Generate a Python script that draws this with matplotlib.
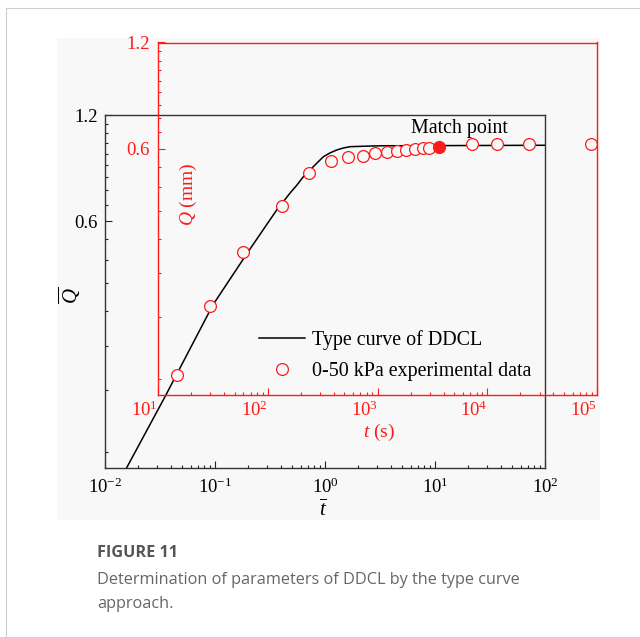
import numpy as np
import matplotlib
matplotlib.use("Agg")
import matplotlib.pyplot as plt
import matplotlib.ticker as ticker
from matplotlib.lines import Line2D
from matplotlib.patches import Rectangle

plt.rcParams['font.family'] = 'Liberation Serif'
plt.rcParams['mathtext.fontset'] = 'custom'
plt.rcParams['mathtext.rm'] = 'Liberation Serif'
plt.rcParams['mathtext.it'] = 'Liberation Serif:italic'

# type curve (dimensionless)
tbar = [0.0148, 0.0351, 0.0959, 0.1995, 0.364, 0.481, 0.556, 0.635, 0.700, 0.784, 0.863,
        0.966, 1.110, 1.277, 1.457, 1.687, 2.08, 2.56, 3.51, 5.15, 100]
qbar = [0.116, 0.191, 0.348, 0.491, 0.646, 0.721, 0.760, 0.802, 0.827, 0.857, 0.883,
        0.914, 0.937, 0.955, 0.967, 0.976, 0.978, 0.980, 0.982, 0.982, 0.985]

# 0-50 kPa experimental data
t_s = [15, 30, 60, 135, 240, 375, 540, 745, 955, 1210, 1500, 1820, 2200, 2580, 2970,
       7300, 12200, 24200, 87700]
q_mm = [0.137, 0.215, 0.306, 0.412, 0.513, 0.553, 0.567, 0.573, 0.582, 0.587, 0.592,
        0.595, 0.599, 0.601, 0.604, 0.617, 0.617, 0.617, 0.617]
match_t = [3660]
match_q = [0.607]

yticks = [0.6, 1.2]
yminor = [k / 15 for k in range(2, 18)]

red = '#ff1a1a'
panel = '#f8f8f8'

fig = plt.figure(figsize=(6.4, 6.37), dpi=100)
fig.patch.set_facecolor('white')
fig.patches.append(Rectangle((57/640, 1-520/637), 543/640, 482/637, transform=fig.transFigure,
                             facecolor=panel, edgecolor='none', zorder=-10))
fig.lines.append(Line2D([6/640, 6/640], [0, 1-8/637], transform=fig.transFigure, color='#cccccc', lw=0.8))
fig.lines.append(Line2D([6/640, 1], [1-8/637, 1-8/637], transform=fig.transFigure, color='#cccccc', lw=0.8))

ax = fig.add_axes([105/640, 1-468/637, 440/640, 353/637])
ax.set_facecolor('none')
ax.plot(tbar, qbar, color='black', lw=1.1)
ax.set_xscale('log')
ax.set_yscale('log')
ax.set_xlim(1e-2, 1e2)
ax.set_ylim(0.12, 1.2)
ax.yaxis.set_major_locator(ticker.FixedLocator(yticks))
ax.yaxis.set_major_formatter(ticker.FixedFormatter(['0.6', '1.2']))
ax.yaxis.set_minor_locator(ticker.FixedLocator(yminor))
ax.yaxis.set_minor_formatter(ticker.NullFormatter())
ax.tick_params(which='both', direction='in', top=False, right=False, labelsize=13.5, color='#222')
ax.tick_params(which='major', length=5, width=0.8)
ax.tick_params(which='minor', length=2.5, width=0.8)
ax.tick_params(axis='x', pad=7)
ax.tick_params(axis='y', pad=5)
for s in ax.spines.values():
    s.set_color('#333')
    s.set_linewidth(1.0)
ax.text(0.495, -0.09, r'$\overline{t}$', transform=ax.transAxes, fontsize=15, ha='center', va='top')
ax.text(-0.08, 0.49, r'$\overline{Q}$', transform=ax.transAxes, fontsize=15, ha='center',
        va='center', rotation=90)

ax2 = fig.add_axes([158/640, 1-395/637, 439/640, 352.5/637])
ax2.set_facecolor('none')
ax2.plot(t_s, q_mm, 'o', ms=8.5, mfc=panel, mec=red, mew=0.9, ls='none')
ax2.plot(match_t, match_q, 'o', ms=8.5, mfc=red, mec=red, ls='none')
ax2.set_xscale('log')
ax2.set_yscale('log')
ax2.set_xlim(1e1, 1e5)
ax2.set_ylim(0.12, 1.2)
ax2.yaxis.set_major_locator(ticker.FixedLocator(yticks))
ax2.yaxis.set_major_formatter(ticker.FixedFormatter(['0.6', '1.2']))
ax2.yaxis.set_minor_locator(ticker.FixedLocator(yminor))
ax2.yaxis.set_minor_formatter(ticker.NullFormatter())
ax2.tick_params(which='both', direction='in', top=False, right=False, labelsize=13.5,
                color=red, labelcolor=red)
ax2.tick_params(which='major', length=5, width=0.8)
ax2.tick_params(which='minor', length=2.5, width=0.8)
ax2.tick_params(axis='x', pad=4)
ax2.tick_params(axis='y', pad=6)
for s in ax2.spines.values():
    s.set_color(red)
    s.set_linewidth(1.0)
ax2.xaxis.set_major_locator(ticker.FixedLocator([1e1, 1e2, 1e3, 1e4, 1e5]))
ax2.xaxis.set_major_formatter(ticker.FixedFormatter([r'$10^{%d}$' % k for k in range(1, 6)]))
for lab in ax2.get_xticklabels():
    lab.set_ha('right')
ax2.text(0.503, -0.105, r'$t$ (s)', transform=ax2.transAxes, fontsize=14, ha='center',
         va='center', color=red)
ax2.text(0.069, 0.57, r'$Q$ (mm)', transform=ax2.transAxes, fontsize=14, ha='center',
         va='center', rotation=90, color=red)
ax2.text(0.686, 0.755, 'Match point', transform=ax2.transAxes, fontsize=14.4, ha='center',
         va='center')

h1 = Line2D([], [], color='black', lw=1.1)
h2 = Line2D([], [], marker='o', ms=8.5, mfc=panel, mec=red, mew=0.9, ls='none')
ax2.legend([h1, h2], ['Type curve of DDCL', '0-50 kPa experimental data'],
           loc='upper left', bbox_to_anchor=(0.231, 0.185), frameon=False, fontsize=14.4,
           handlelength=2.3, handletextpad=0.35, labelspacing=0.6, borderpad=0, borderaxespad=0)

fig.text(97/640, 1-553/637, 'FIGURE 11', fontsize=11.7, family='Open Sans', weight='bold',
         color='#555555', va='center')
fig.text(97/640, 1-580/637, 'Determination of parameters of DDCL by the type curve',
         fontsize=11.7, family='Open Sans', color='#666666', va='center')
fig.text(97/640, 1-604/637, 'approach.', fontsize=11.7, family='Open Sans', color='#666666',
         va='center')

fig.savefig('out.png', dpi=100)
